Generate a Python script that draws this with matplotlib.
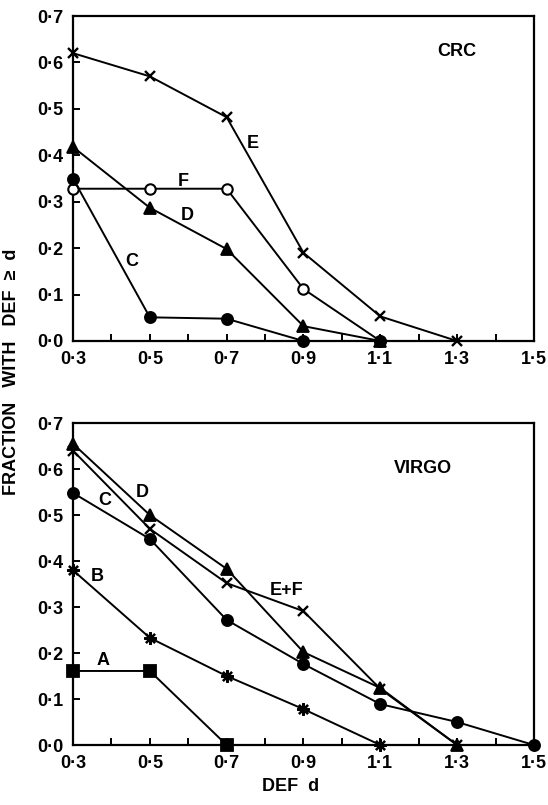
import matplotlib
matplotlib.use("Agg")
import matplotlib.pyplot as plt
from matplotlib.ticker import FixedLocator, MultipleLocator

plt.rcParams['font.family'] = ['Liberation Sans', 'DejaVu Sans']

# ---------------- data ----------------
xticks = [0.3, 0.5, 0.7, 0.9, 1.1, 1.3, 1.5]
xticklabels = ["0·3", "0·5", "0·7", "0·9", "1·1", "1·3", "1·5"]
yticks = [0.0, 0.1, 0.2, 0.3, 0.4, 0.5, 0.6, 0.7]
yticklabels = ["0·0", "0·1", "0·2", "0·3", "0·4", "0·5", "0·6", "0·7"]

# CRC panel
crc_E_x = [0.3, 0.5, 0.7, 0.9, 1.1, 1.3]
crc_E_y = [0.62, 0.57, 0.482, 0.19, 0.053, 0.0]
crc_F_x = [0.3, 0.5, 0.7, 0.9, 1.1]
crc_F_y = [0.328, 0.328, 0.328, 0.112, 0.0]
crc_D_x = [0.3, 0.5, 0.7, 0.9, 1.1]
crc_D_y = [0.418, 0.287, 0.198, 0.032, 0.0]
crc_C_x = [0.3, 0.5, 0.7, 0.9, 1.1]
crc_C_y = [0.35, 0.051, 0.048, 0.0, 0.0]

# VIRGO panel
vir_EF_x = [0.3, 0.5, 0.7, 0.9, 1.1, 1.3]
vir_EF_y = [0.64, 0.47, 0.352, 0.291, 0.122, 0.0]
vir_D_x = [0.3, 0.5, 0.7, 0.9, 1.1, 1.3]
vir_D_y = [0.655, 0.50, 0.383, 0.202, 0.124, 0.0]
vir_C_x = [0.3, 0.5, 0.7, 0.9, 1.1, 1.3, 1.5]
vir_C_y = [0.548, 0.448, 0.272, 0.176, 0.089, 0.05, 0.0]
vir_B_x = [0.3, 0.5, 0.7, 0.9, 1.1]
vir_B_y = [0.38, 0.233, 0.15, 0.078, 0.0]
vir_A_x = [0.3, 0.5, 0.7]
vir_A_y = [0.161, 0.161, 0.0]

# ---------------- figure ----------------
fig = plt.figure(figsize=(5.48, 8.05), dpi=100)
ax1 = fig.add_axes([0.1332, 0.5764, 0.8412, 0.4037])
ax2 = fig.add_axes([0.1332, 0.0745, 0.8412, 0.4000])

lw = 1.4
ast = (8, 2, 0)

def style(ax):
    ax.set_xlim(0.3, 1.5)
    ax.set_ylim(0.0, 0.7)
    ax.xaxis.set_major_locator(FixedLocator(xticks))
    ax.set_xticklabels(xticklabels)
    ax.xaxis.set_minor_locator(MultipleLocator(0.1))
    ax.yaxis.set_major_locator(FixedLocator(yticks))
    ax.set_yticklabels(yticklabels)
    ax.tick_params(which='both', direction='in', length=5, width=1.4,
                   labelsize=13, pad=7, top=False, right=False)
    for s in ax.spines.values():
        s.set_linewidth(1.6)
    for lab in ax.get_xticklabels() + ax.get_yticklabels():
        lab.set_fontweight('bold')

def series(ax, x, y, marker, ms, mfc='black', mew=1.3):
    ax.plot(x, y, color='black', lw=lw, marker=marker, ms=ms,
            mfc=mfc, mec='black', mew=mew, clip_on=False, zorder=3)

# top panel
series(ax1, crc_E_x, crc_E_y, 'x', 7, mew=1.7)
series(ax1, crc_F_x, crc_F_y, 'o', 7.5, mfc='white', mew=1.5)
series(ax1, crc_D_x, crc_D_y, '^', 8)
series(ax1, crc_C_x, crc_C_y, 'o', 8)
style(ax1)
tk = dict(fontsize=13, fontweight='bold', ha='center', va='center')
fig.text(457/548, 1 - 52/805, "CRC", **tk)
fig.text(253/548, 1 - 143/805, "E", **tk)
fig.text(183/548, 1 - 181/805, "F", **tk)
fig.text(187/548, 1 - 215/805, "D", **tk)
fig.text(132/548, 1 - 262/805, "C", **tk)

# bottom panel
series(ax2, vir_C_x, vir_C_y, 'o', 8)
series(ax2, vir_EF_x, vir_EF_y, 'x', 7, mew=1.7)
series(ax2, vir_D_x, vir_D_y, '^', 8)
series(ax2, vir_B_x, vir_B_y, ast, 9, mew=1.6)
series(ax2, vir_A_x, vir_A_y, 's', 8)
style(ax2)
fig.text(423/548, 1 - 468/805, "VIRGO", **tk)
fig.text(142/548, 1 - 492/805, "D", **tk)
fig.text(105/548, 1 - 500/805, "C", **tk)
fig.text(97/548, 1 - 576/805, "B", **tk)
fig.text(103/548, 1 - 660/805, "A", **tk)
fig.text(287/548, 1 - 590/805, "E+F", **tk)

# axis titles
fig.text(12/548, 1 - 372/805, "FRACTION   WITH   DEF  ≥  d", rotation=90,
         fontsize=13, fontweight='bold', ha='center', va='center')
fig.text(291/548, 1 - 786/805, "DEF  d", fontsize=13, fontweight='bold',
         ha='center', va='center')

fig.savefig("out.png", dpi=100)
